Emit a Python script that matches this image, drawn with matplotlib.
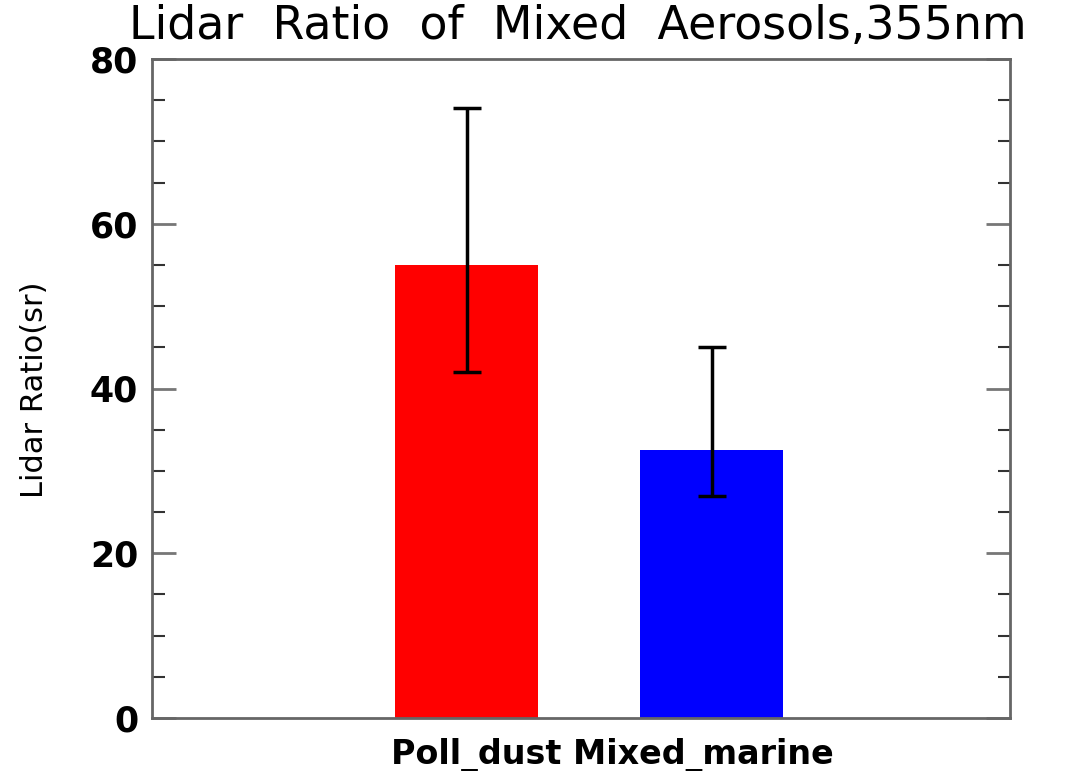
import matplotlib.pyplot as plt
from matplotlib.ticker import MultipleLocator

categories = ['Poll_dust', 'Mixed_marine']
lidar_ratio = [55.0, 32.5]
err_low = [42.0, 27.0]
err_high = [74.0, 45.0]
bar_colors = ['#ff0000', '#0000ff']

x_pos = [0, 1]
yerr = [[v - lo for v, lo in zip(lidar_ratio, err_low)],
        [hi - v for v, hi in zip(lidar_ratio, err_high)]]

fig = plt.figure(figsize=(10.68, 7.71), dpi=100)
ax = fig.add_axes([152 / 1068, 1 - 718 / 771, (1010 - 152) / 1068, (718 - 59) / 771])

ax.bar(x_pos, lidar_ratio, width=0.584, color=bar_colors, zorder=2)
ax.errorbar(x_pos, lidar_ratio, yerr=yerr, fmt='none', ecolor='black',
            elinewidth=2.5, capsize=10, capthick=2.5, zorder=3)

ax.set_xlim(-1.284, 2.218)
ax.set_ylim(0, 80)
ax.set_xticks(x_pos)
ax.set_xticklabels([])
ax.yaxis.set_major_locator(MultipleLocator(20))
ax.yaxis.set_minor_locator(MultipleLocator(5))
ax.tick_params(axis='y', which='major', direction='in', length=17, width=2,
               color='#777777', right=True, labelsize=25, pad=10)
ax.tick_params(axis='y', which='minor', direction='in', length=9, width=1.5,
               color='#333333', right=True)
ax.tick_params(axis='x', direction='in', length=12, width=1.5, color='#222222')
for lbl in ax.get_yticklabels():
    lbl.set_fontweight('bold')
for sp in ax.spines.values():
    sp.set_linewidth(2)
    sp.set_color('#666666')

fig.text(35 / 1068, 1 - 390 / 771, 'Lidar Ratio(sr)', rotation=90,
         ha='center', va='center', fontsize=22)
fig.text(578 / 1068, 1 - 27 / 771, 'Lidar  Ratio  of  Mixed  Aerosols,355nm',
         ha='center', va='center', fontsize=33)
fig.text(612 / 1068, 1 - 755 / 771, ' '.join(categories),
         ha='center', va='center', fontsize=24, fontweight='bold')

fig.savefig('out.png', dpi=100)
